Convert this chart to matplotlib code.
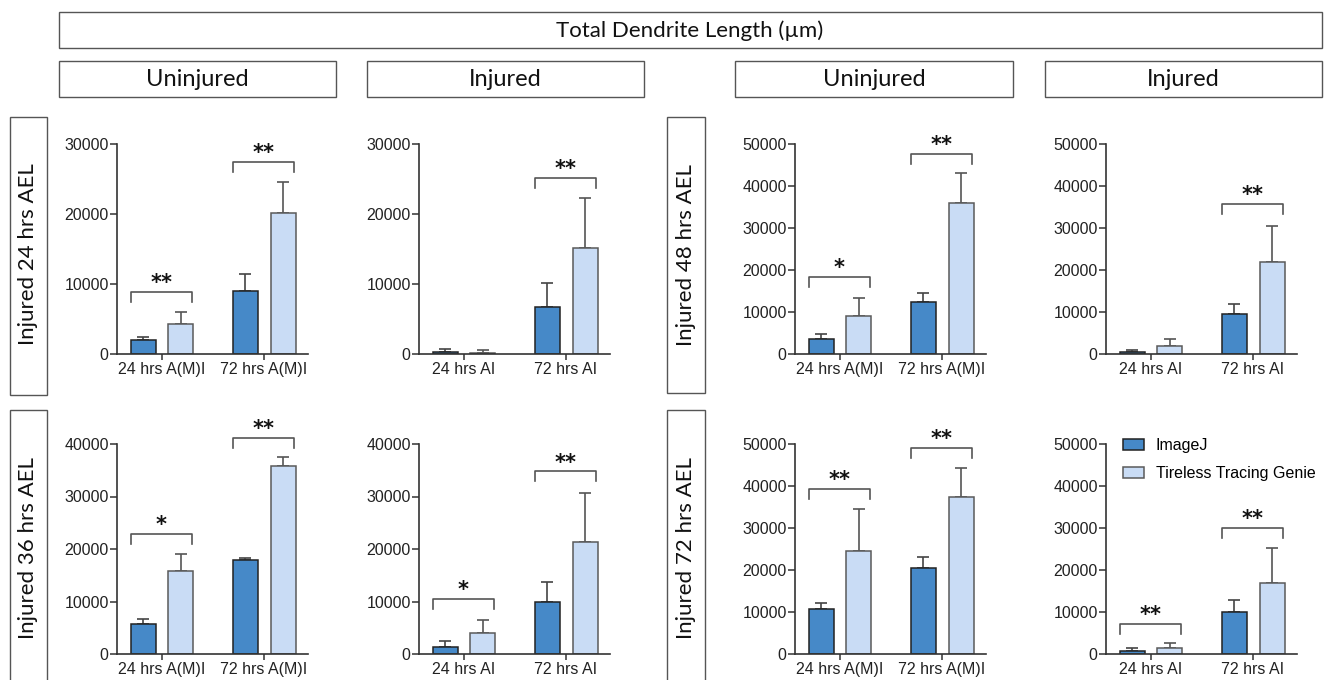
import matplotlib
matplotlib.use("Agg")
import matplotlib.pyplot as plt
from matplotlib.patches import Rectangle
import numpy as np

W, H = 1330, 680
DPI = 100

# ---------------- data ----------------
series_names = ["ImageJ", "Tireless Tracing Genie"]
panel_rows = ["Injured 24 hrs AEL", "Injured 24 hrs AEL", "Injured 48 hrs AEL", "Injured 48 hrs AEL",
              "Injured 36 hrs AEL", "Injured 36 hrs AEL", "Injured 72 hrs AEL", "Injured 72 hrs AEL"]
xlabels_uninj = ["24 hrs A(M)I", "72 hrs A(M)I"]
xlabels_inj = ["24 hrs AI", "72 hrs AI"]
panel_xlabels = [xlabels_uninj, xlabels_inj, xlabels_uninj, xlabels_inj,
                 xlabels_uninj, xlabels_inj, xlabels_uninj, xlabels_inj]
panel_ymax = [30000, 30000, 50000, 50000, 40000, 40000, 50000, 50000]

imagej_mean = [[2000, 9050], [250, 6700], [3550, 12350], [400, 9600],
               [5650, 17950], [1400, 9950], [10600, 20550], [630, 10100]]
imagej_err = [[470, 2370], [400, 3500], [1200, 2150], [550, 2300],
              [1080, 400], [1130, 3800], [1650, 2550], [800, 2850]]
ttg_mean = [[4300, 20100], [150, 15150], [9000, 35900], [1800, 21950],
            [15900, 35800], [4050, 21300], [24450, 37500], [1350, 17000]]
ttg_err = [[1700, 4500], [380, 7100], [4300, 7100], [1800, 8550],
           [3100, 1700], [2450, 9400], [10100, 6800], [1200, 8300]]

sig_marks = [["**", "**"], ["", "**"], ["*", "**"], ["", "**"],
             ["*", "**"], ["*", "**"], ["**", "**"], ["**", "**"]]
sig_heights = [[8910, 27490], [None, 25150], [18430, 47700], [None, 35800],
               [22950, 41200], [10520, 34800], [39400, 49050], [7200, 29980]]

header_title = "Total Dendrite Length (µm)"
col_headers = ["Uninjured", "Injured", "Uninjured", "Injured"]
row_labels = ["Injured 24 hrs AEL", "Injured 36 hrs AEL", "Injured 48 hrs AEL", "Injured 72 hrs AEL"]

# ---------------- style ----------------
C_IMJ = "#4689C8"
C_TTG = "#C9DCF5"
EDGE_IMJ = "#222222"
EDGE_TTG = "#5a5a5a"
AX_COL = "#333333"
BOX_COL = "#555555"
HEAD_FONT = ["Lato", "DejaVu Sans"]
TICK_FONT = ["Liberation Sans", "DejaVu Sans"]

plt.rcParams["font.family"] = TICK_FONT

fig = plt.figure(figsize=(W / DPI, H / DPI), dpi=DPI)


def fx(px):
    return px / W


def fy(py):
    return 1 - py / H


def box(x0, y0, x1, y1):
    fig.patches.append(Rectangle((fx(x0), fy(y1)), fx(x1) - fx(x0), fy(y0) - fy(y1),
                                 transform=fig.transFigure, fill=False,
                                 edgecolor=BOX_COL, linewidth=1.0, clip_on=False))


# headers
box(59, 12, 1322, 48)
fig.text(fx(690), fy(31), header_title, ha="center", va="center", fontsize=16,
         family=HEAD_FONT, color="#111111")
col_boxes = [(59, 336), (367, 644), (735, 1013), (1045, 1322)]
for (x0, x1), t in zip(col_boxes, col_headers):
    box(x0, 61, x1, 97)
    fig.text(fx((x0 + x1) / 2), fy(80), t, ha="center", va="center", fontsize=17,
             family=HEAD_FONT, color="#111111")

# row label boxes
row_boxes = [((10, 47), (117, 395)), ((10, 47), (410, 700)),
             ((667, 705), (117, 393)), ((667, 705), (410, 700))]
row_centers = [254, 548, 255, 548]
for ((x0, x1), (y0, y1)), t, cy in zip(row_boxes, row_labels, row_centers):
    box(x0, y0, x1, y1)
    fig.text(fx((x0 + x1) / 2), fy(cy), t, ha="center", va="center", rotation=90,
             fontsize=16, family=HEAD_FONT, color="#111111")

# axes positions (pixels): left, top, right, bottom
ax_lefts = [117, 419, 795, 1106]
row_tb = [(144, 354), (444, 654)]
axw = 191

xpos = np.array([0, 1])
off = 0.186
bw = 0.245
xlim = (-0.441, 1.431)

axes = []
for i in range(8):
    r = 0 if i in (0, 1, 2, 3) else 1
    c = i % 4
    t, b = row_tb[r]
    l = ax_lefts[c]
    ax = fig.add_axes([fx(l), fy(b), fx(axw), (b - t) / H])
    axes.append(ax)
    ymax = panel_ymax[i]
    ax.bar(xpos - off, imagej_mean[i], width=bw, color=C_IMJ, edgecolor=EDGE_IMJ,
           linewidth=1.1, label=series_names[0], zorder=2)
    ax.bar(xpos + off, ttg_mean[i], width=bw, color=C_TTG, edgecolor=EDGE_TTG,
           linewidth=1.1, label=series_names[1], zorder=2)
    ax.errorbar(xpos - off, imagej_mean[i], yerr=[np.zeros(2), imagej_err[i]], fmt="none",
                ecolor="#444444", elinewidth=1.2, capsize=4.5, capthick=1.2, zorder=1)
    ax.errorbar(xpos + off, ttg_mean[i], yerr=[np.zeros(2), ttg_err[i]], fmt="none",
                ecolor="#555555", elinewidth=1.2, capsize=4.5, capthick=1.2, zorder=1)
    ax.set_xlim(*xlim)
    ax.set_ylim(0, ymax)
    ax.set_yticks(np.arange(0, ymax + 1, 10000))
    ax.set_yticklabels([str(v) for v in np.arange(0, ymax + 1, 10000)])
    ax.set_xticks(xpos)
    ax.set_xticklabels(panel_xlabels[i])
    for s in ("top", "right"):
        ax.spines[s].set_visible(False)
    for s in ("left", "bottom"):
        ax.spines[s].set_color(AX_COL)
        ax.spines[s].set_linewidth(1.2)
    ax.tick_params(axis="y", direction="out", length=5, width=1.1, pad=1, labelsize=11.5,
                   colors="#222222")
    ax.tick_params(axis="x", direction="out", length=4.5, width=1.1, pad=1.5, labelsize=11.5,
                   colors="#222222")
    ax.tick_params(axis="both", color=AX_COL)
    ax.patch.set_alpha(0)
    # significance brackets
    leg = ymax * 10 / 210
    for g in range(2):
        m = sig_marks[i][g]
        h = sig_heights[i][g]
        if not m:
            continue
        xl = xpos[g] - off - bw / 2
        xr = xpos[g] + off + bw / 2 - 0.01
        ax.plot([xl, xl, xr, xr], [h - leg, h, h, h - leg], color="#555555", lw=1.2,
                clip_on=False, zorder=3)
        ax.annotate(m, xy=((xl + xr) / 2, h), xytext=(0, -1), textcoords="offset points",
                    ha="center", va="bottom", fontsize=15, fontweight="bold",
                    family=["DejaVu Sans"], color="#111111", annotation_clip=False)

# legend in last panel
h1 = axes[7].containers[0]
h2 = axes[7].containers[1]
axes[7].legend([h1, h2], series_names, loc="upper left", frameon=False,
               bbox_to_anchor=(fx(1123), fy(438)), bbox_transform=fig.transFigure,
               fontsize=11.5, handlelength=1.3, handleheight=0.7, handletextpad=0.75,
               labelspacing=0.8, borderaxespad=0, borderpad=0)

fig.savefig("out.png", dpi=DPI)
